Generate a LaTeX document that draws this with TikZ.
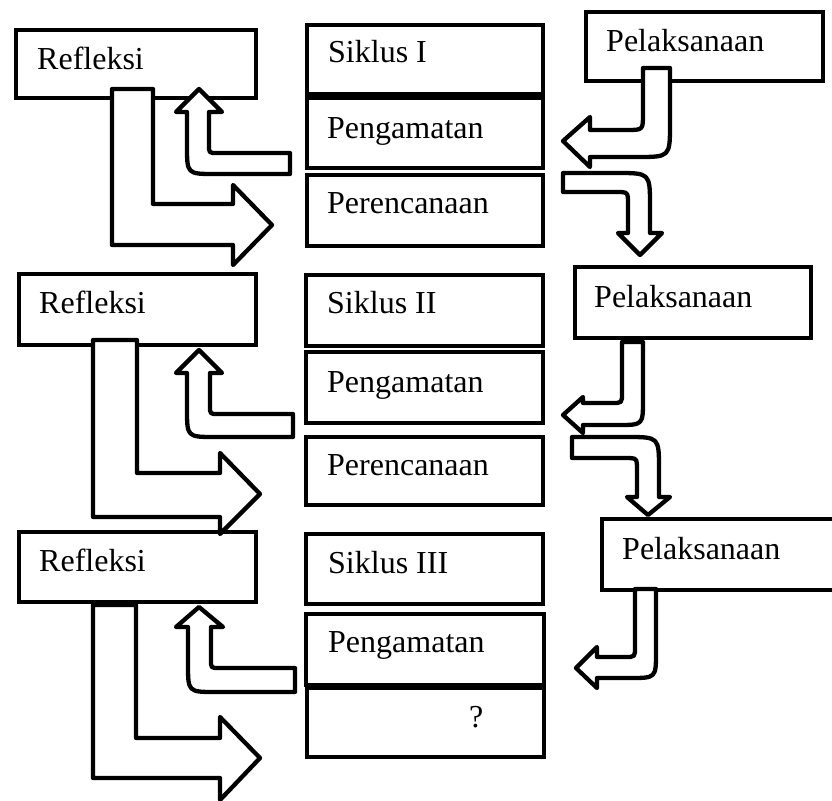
\documentclass[tikz,border=0pt]{standalone}
\usepackage{fontspec}
\setmainfont{Liberation Serif}
\begin{document}
\begin{tikzpicture}[x=1pt,y=-1pt,
  box/.style={draw, line width=4pt, inner sep=0pt, outer sep=0pt},
  txt/.style={inner sep=0pt, anchor=base west, font=\fontsize{32}{38}\selectfont},
  barrow/.style={draw, fill=white, line width=4.3pt, line join=round}]
\useasboundingbox (0,0) rectangle (832,800);
\clip (0,0) rectangle (832,800);
% ---------- boxes ----------
\node[box, minimum width=240pt, minimum height=68pt] (ref1) at (136,64) {};
\node[box, minimum width=236pt, minimum height=69pt] (sik1) at (425,59.5) {};
\node[box, minimum width=236pt, minimum height=70pt] (pen1) at (425,133) {};
\node[box, minimum width=236pt, minimum height=71pt] (per1) at (425,210.5) {};
\node[box, minimum width=237pt, minimum height=69pt] (pel1) at (704.5,46.5) {};
\node[box, minimum width=237pt, minimum height=71pt] (ref2) at (137.5,309.5) {};
\node[box, minimum width=237pt, minimum height=71pt] (sik2) at (424.5,310.5) {};
\node[box, minimum width=237pt, minimum height=71pt] (pen2) at (424.5,387.5) {};
\node[box, minimum width=237pt, minimum height=68pt] (per2) at (424.5,471) {};
\node[box, minimum width=236pt, minimum height=71pt] (pel2) at (693,302.5) {};
\node[box, minimum width=237pt, minimum height=70pt] (ref3) at (137.5,567) {};
\node[box, minimum width=237pt, minimum height=70pt] (sik3) at (424.5,569) {};
\node[box, minimum width=238pt, minimum height=71pt] (pen3) at (425,649.5) {};
\node[box, minimum width=237pt, minimum height=69pt] (per3) at (425.5,722.5) {};
\node[box, minimum width=238pt, minimum height=71pt] (pel3) at (721,554.5) {};
% ---------- texts ----------
\node[txt] (tref1) at (37,70) {Refleksi};
\node[txt] (tsik1) at (328,63) {Siklus I};
\node[txt] (tpen1) at (327,138) {Pengamatan};
\node[txt] (tper1) at (327,213) {Perencanaan};
\node[txt] (tpel1) at (606,52) {Pelaksanaan};
\node[txt] (tref2) at (39,313) {Refleksi};
\node[txt] (tsik2) at (327,313) {Siklus II};
\node[txt] (tpen2) at (327,392) {Pengamatan};
\node[txt] (tper2) at (327,475) {Perencanaan};
\node[txt] (tpel2) at (594,307) {Pelaksanaan};
\node[txt] (tref3) at (39,571) {Refleksi};
\node[txt] (tsik3) at (328,573) {Siklus III};
\node[txt] (tpen3) at (328,652) {Pengamatan};
\node[txt] (tper3) at (469,727) {?};
\node[txt] (tpel3) at (622,559) {Pelaksanaan};
% ---------- block arrows, cycle I ----------
\draw[barrow] (112,89) -- (153,89) -- (153,204) -- (233,204) -- (233,185) -- (272,225) -- (233,265) -- (233,245) -- (112,245) -- cycle;
\draw[barrow] (290,153) -- (217,153) .. controls (209,153) .. (209,145) -- (209,112) -- (222,112) -- (199,89) -- (176,112) -- (187,112) -- (187,146) .. controls (187,174) .. (215,174) -- (290,174) -- cycle;
\draw[barrow] (643,68) -- (670,68) -- (670,124) .. controls (670,157) .. (637,157) -- (590,157) -- (590,167) -- (563,141) -- (590,117) -- (590,130) -- (627,130) .. controls (643,130) .. (643,114) -- cycle;
\draw[barrow] (563,173) -- (617,173) .. controls (650,173) .. (650,206) -- (650,233) -- (662,233) -- (640,255) -- (618,233) -- (628,233) -- (628,204) .. controls (628,192) .. (616,192) -- (563,192) -- cycle;
% ---------- block arrows, cycle II ----------
\draw[barrow] (93,340) -- (137,340) -- (137,473) -- (220,473) -- (220,453) -- (260,494) -- (220,534) -- (220,517) -- (93,517) -- cycle;
\draw[barrow] (293,414) -- (218,414) .. controls (210,414) .. (210,406) -- (210,373) -- (222,373) -- (199,350) -- (176,373) -- (187,373) -- (187,409) .. controls (187,437) .. (215,437) -- (293,437) -- cycle;
\draw[barrow] (622,342) -- (643,342) -- (643,400) .. controls (643,425) .. (618,425) -- (583,425) -- (583,433) -- (563,415) -- (583,397) -- (583,403) -- (612,403) .. controls (622,403) .. (622,393) -- cycle;
\draw[barrow] (572,437) -- (627,437) .. controls (659,437) .. (659,469) -- (659,497) -- (670,497) -- (648,515) -- (627,497) -- (637,497) -- (637,470) .. controls (637,458) .. (625,458) -- (572,458) -- cycle;
% ---------- block arrows, cycle III ----------
\draw[barrow] (93,605) -- (136,605) -- (136,738) -- (220,738) -- (220,717) -- (260,758) -- (220,800) -- (220,778) -- (93,778) -- cycle;
\draw[barrow] (295,668) -- (219,668) .. controls (211,668) .. (211,660) -- (211,627) -- (223,627) -- (199,607) -- (176,627) -- (188,627) -- (188,664) .. controls (188,692) .. (216,692) -- (295,692) -- cycle;
\draw[barrow] (635,589) -- (656,589) -- (656,652) .. controls (656,678) .. (630,678) -- (597,678) -- (597,688) -- (576,668) -- (597,647) -- (597,657) -- (625,657) .. controls (635,657) .. (635,647) -- cycle;
\end{tikzpicture}
\end{document}
